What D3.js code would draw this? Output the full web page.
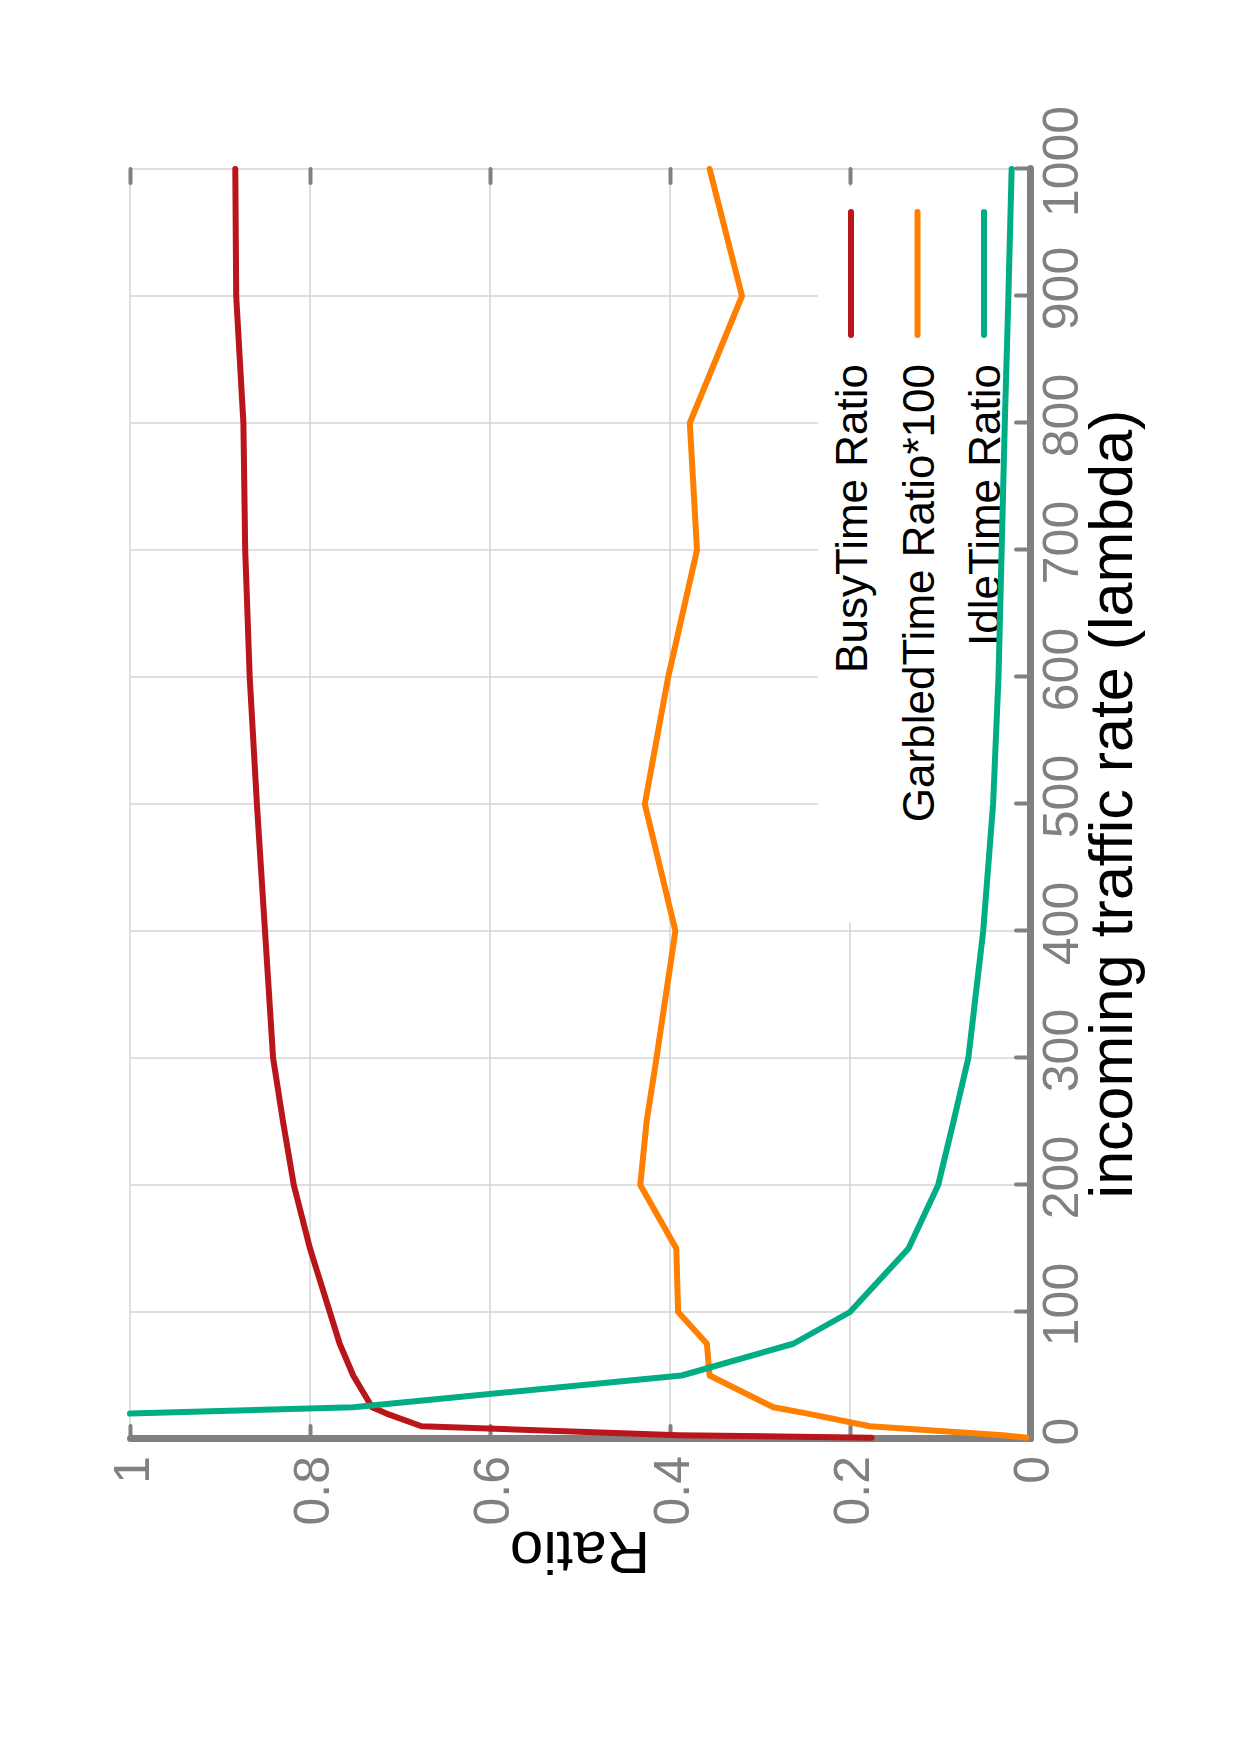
<!DOCTYPE html>
<html>
<head>
<meta charset="utf-8">
<script src="https://cdn.jsdelivr.net/npm/d3@7"></script>
<style>
  body { margin: 0; background: #fff; }
  text { font-family: "Liberation Sans", Arial, Helvetica, sans-serif; }
</style>
</head>
<body>
<div id="chart"></div>
<script>
// data (lambda on x, ratios on y)
const lambdas = [1, 3, 10, 20, 25, 50, 75, 100, 150, 200, 250, 300, 400, 500, 600, 700, 800, 900, 1000];
const busyRatio = [0.176, 0.39, 0.676, 0.715, 0.731, 0.752, 0.767, 0.778, 0.800, 0.818, 0.830, 0.841, 0.850, 0.859, 0.867, 0.872, 0.874, 0.882, 0.883];
const garbledRatio100 = [0.004, 0.03, 0.178, 0.247, 0.285, 0.356, 0.359, 0.391, 0.393, 0.433, 0.426, 0.415, 0.394, 0.428, 0.402, 0.370, 0.378, 0.320, 0.356];
const idleRatio = [null, null, null, 1.0, 0.752, 0.387, 0.263, 0.200, 0.135, 0.102, 0.085, 0.0685, 0.052, 0.041, 0.035, 0.0315, 0.028, 0.024, 0.0204];
const seriesNames = ['BusyTime Ratio', 'GarbledTime Ratio*100', 'IdleTime Ratio'];
const seriesColors = ['#b8161b', '#ff7f00', '#00ad84'];
const lambdaTicks = [0, 100, 200, 300, 400, 500, 600, 700, 800, 900, 1000];
const ratioTicks = [0, 0.2, 0.4, 0.6, 0.8, 1];
const ratioLabels = ['0', '0.2', '0.4', '0.6', '0.8', '1'];

const W = 1240, H = 1755;
const plotW = 1270, plotH = 900;
const axisGrey = '#808080';

const svg = d3.select('#chart').append('svg')
  .attr('width', W).attr('height', H);
svg.append('rect').attr('width', W).attr('height', H).attr('fill', '#fff');

// the whole chart is turned a quarter turn counter-clockwise
const g = svg.append('g')
  .attr('transform', 'translate(130,1439) rotate(-90)');

const x = d3.scaleLinear().domain([0, 1000]).range([0, plotW]);
const y = d3.scaleLinear().domain([0, 1]).range([plotH, 0]);

// grid
g.append('g').selectAll('line')
  .data(lambdaTicks.slice(1))
  .join('line')
  .attr('x1', d => x(d)).attr('x2', d => x(d))
  .attr('y1', 0).attr('y2', plotH)
  .attr('stroke', '#d4d4d4').attr('stroke-width', 1.5);
g.append('g').selectAll('line')
  .data(ratioTicks.slice(1))
  .join('line')
  .attr('x1', 0).attr('x2', plotW)
  .attr('y1', d => y(d)).attr('y2', d => y(d))
  .attr('stroke', '#d4d4d4').attr('stroke-width', 1.5);

// top ticks (no line)
const topAx = g.append('g')
  .attr('transform', `translate(${plotW},0)`)
  .call(d3.axisLeft(y).tickValues(ratioTicks.slice(1)).tickSizeInner(14).tickSizeOuter(0).tickFormat(''));
topAx.select('.domain').remove();
topAx.selectAll('line').attr('stroke', axisGrey).attr('stroke-width', 4).attr('stroke-linecap', 'round');

// legend
const leg = g.append('g');
leg.append('rect')
  .attr('x', 517).attr('y', 688)
  .attr('width', 735).attr('height', 208)
  .attr('fill', '#fff');
const legItems = leg.selectAll('g.item')
  .data(seriesNames)
  .join('g')
  .attr('class', 'item')
  .attr('transform', (d, i) => `translate(0,${721 + i * 66.5})`);
legItems.append('line')
  .attr('x1', 1104).attr('x2', 1227)
  .attr('stroke', (d, i) => seriesColors[i])
  .attr('stroke-width', 6)
  .attr('stroke-linecap', 'round');
legItems.append('text')
  .attr('x', 1075).attr('y', 16)
  .attr('text-anchor', 'end')
  .attr('font-size', 44)
  .attr('fill', '#000')
  .text(d => d);

// axes
const xAx = g.append('g')
  .attr('transform', `translate(0,${plotH})`)
  .call(d3.axisBottom(x).tickValues(lambdaTicks).tickFormat(d3.format('d'))
    .tickSizeInner(-14).tickSizeOuter(0).tickPadding(12));
const yAx = g.append('g')
  .call(d3.axisLeft(y).tickValues(ratioTicks).tickFormat((d, i) => ratioLabels[i])
    .tickSizeInner(-13).tickSizeOuter(0).tickPadding(17));
[xAx, yAx].forEach(ax => {
  ax.select('.domain').attr('stroke', axisGrey).attr('stroke-width', 7).attr('stroke-linecap', 'round');
  ax.selectAll('.tick line').attr('stroke', axisGrey).attr('stroke-width', 4).attr('stroke-linecap', 'round');
  ax.selectAll('.tick text').attr('fill', axisGrey).attr('font-size', 50)
    .attr('font-family', '"Liberation Sans", Arial, sans-serif');
});
xAx.selectAll('.tick text').attr('x', 7);
yAx.selectAll('.tick text').attr('dy', '0.36em');

// axis titles
g.append('text')
  .attr('x', plotW / 2).attr('y', 1002)
  .attr('text-anchor', 'middle')
  .attr('font-size', 61)
  .text('incoming traffic rate (lambda)');
g.append('text')
  .attr('transform', `translate(-93,${plotH / 2}) rotate(-90)`)
  .attr('text-anchor', 'middle')
  .attr('font-size', 60)
  .text('Ratio');

// lines
const series = [busyRatio, garbledRatio100, idleRatio];
const line = d3.line()
  .defined(d => d[1] != null)
  .x(d => x(d[0]))
  .y(d => y(d[1]));
series.forEach((vals, i) => {
  g.append('path')
    .datum(lambdas.map((l, j) => [l, vals[j]]))
    .attr('d', line)
    .attr('fill', 'none')
    .attr('stroke', seriesColors[i])
    .attr('stroke-width', 6)
    .attr('stroke-linejoin', 'round')
    .attr('stroke-linecap', 'round');
});
</script>
</body>
</html>
